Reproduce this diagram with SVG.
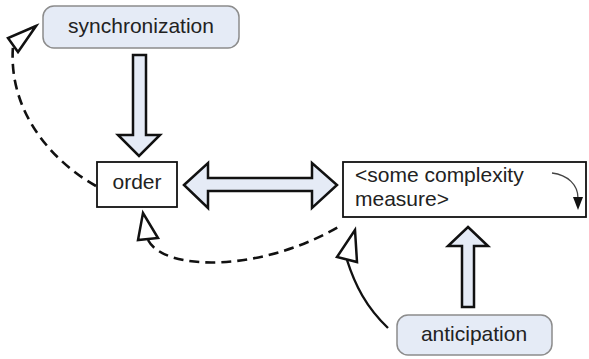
<svg xmlns="http://www.w3.org/2000/svg" width="589" height="359" viewBox="0 0 589 359">
  <style>
    .txt { font-family: "Liberation Sans", Arial, sans-serif; font-size: 21px; fill: #222; }
    .pill { fill: #e5ebf6; stroke: #8c8c8c; stroke-width: 1.5; }
    .box { fill: #fff; stroke: #111; stroke-width: 1.8; }
    .block { fill: #e5ebf6; stroke: #111; stroke-width: 2.5; stroke-linejoin: miter; }
    .dash { fill: none; stroke: #111; stroke-width: 2.6; stroke-dasharray: 10 6; }
    .solid { fill: none; stroke: #111; stroke-width: 2.4; }
    .head { fill: #fff; stroke: #111; stroke-width: 2.5; stroke-linejoin: miter; }
  </style>
  <rect width="589" height="359" fill="#fff"/>

  <g id="connectors">
    <!-- synchronization -> order -->
    <polygon class="block" points="133,55 146,55 146,135 160,135 139,156 118,135 133,135"/>
    <!-- order <-> complexity measure -->
    <polygon class="block" points="184,185 208,163 208,178 312,178 312,163 337,185 312,208 312,191 208,191 208,208"/>
    <!-- anticipation -> complexity measure -->
    <polygon class="block" points="468,227 488,246 474,246 474,307 462,307 462,246 448,246"/>
    <!-- order -> synchronization (dashed) -->
    <path class="dash" d="M 96 186 C 50 160, 8 110, 13 46"/>
    <polygon class="head" points="36,26 8,38 18,52"/>
    <!-- complexity measure -> order (dashed) -->
    <path class="dash" d="M 148 240 C 165 272, 262 272, 340 226"/>
    <polygon class="head" points="143,213 138,240 158,238"/>
    <!-- anticipation -> complexity measure (solid) -->
    <path class="solid" d="M 347 260 C 355 285, 366 307, 388 328"/>
    <polygon class="head" points="355,230 337,257 357,262"/>
  </g>

  <g id="synchronization">
    <rect class="pill" x="43" y="6" width="196" height="42" rx="11"/>
    <text class="txt" x="141" y="33" text-anchor="middle">synchronization</text>
  </g>

  <g id="order">
    <rect class="box" x="97" y="162" width="80" height="45"/>
    <text class="txt" x="137" y="189" text-anchor="middle">order</text>
  </g>

  <g id="complexity">
    <rect class="box" x="343" y="162" width="243" height="55"/>
    <text class="txt" x="355" y="182">&lt;some complexity</text>
    <text class="txt" x="355" y="206">measure&gt;</text>
    <path d="M 552 173 C 568 175, 578 185, 578 198" fill="none" stroke="#444" stroke-width="1.3"/>
    <polygon points="573,197 583,197 578,210" fill="#111"/>
  </g>

  <g id="anticipation">
    <rect class="pill" x="397" y="315" width="155" height="40" rx="11"/>
    <text class="txt" x="474" y="341" text-anchor="middle">anticipation</text>
  </g>
</svg>
